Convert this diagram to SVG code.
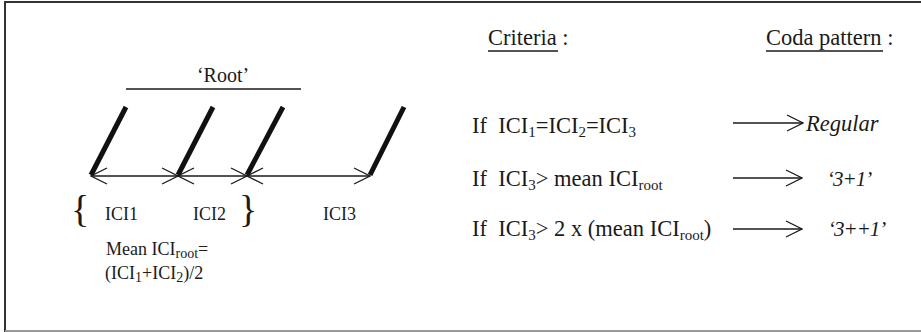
<svg xmlns="http://www.w3.org/2000/svg" width="921" height="332" viewBox="0 0 921 332">
<style>
  text { font-family: "Liberation Serif", "Times New Roman", serif; fill: #1a1a1a; }
  .l { font-size: 18px; }
  .r { font-size: 22.5px; }
  .it { font-style: italic; }
  .sub { font-size: 14px; }
  .rsub { font-size: 15px; }
  .thin { stroke: #1a1a1a; stroke-width: 1.3; fill: none; }
  .slash { stroke: #111; stroke-width: 5; fill: none; }
  .arr { stroke: #1a1a1a; stroke-width: 1.3; fill: none; marker-start: url(#chev); marker-end: url(#chev); }
  .rarr { stroke: #1a1a1a; stroke-width: 1.3; fill: none; marker-end: url(#chev); }
</style>
<defs>
  <marker id="chev" viewBox="-17 -9 18 18" refX="0" refY="0" markerWidth="18" markerHeight="18" markerUnits="userSpaceOnUse" orient="auto-start-reverse">
    <path d="M-16,-8 L0,0 L-16,8" fill="none" stroke="#1a1a1a" stroke-width="1.3"/>
  </marker>
</defs>
<rect width="921" height="332" fill="#ffffff"/>
<g id="frame">
  <path d="M5,332 V2 H921" fill="none" stroke="#333" stroke-width="2"/>
  <line x1="5" y1="331" x2="921" y2="331" stroke="#999" stroke-width="2"/>
</g>
<g id="root">
  <text x="223" y="82" text-anchor="middle" style="font-size:20px">‘Root’</text>
  <line class="thin" x1="126" y1="89" x2="301" y2="89"/>
</g>
<g id="clicks">
  <line class="slash" x1="91" y1="175" x2="126" y2="107"/>
  <line class="slash" x1="178" y1="175" x2="213" y2="107"/>
  <line class="slash" x1="247" y1="175" x2="283" y2="107"/>
  <line class="slash" x1="370" y1="175" x2="404" y2="107"/>
</g>
<g id="connectors">
  <line class="arr" x1="91" y1="176" x2="178" y2="176"/>
  <line class="arr" x1="178" y1="176" x2="247" y2="176"/>
  <line class="arr" x1="247" y1="176" x2="370" y2="176"/>
  <line class="rarr" x1="733" y1="123" x2="803" y2="123"/>
  <line class="rarr" x1="733" y1="178" x2="802" y2="178"/>
  <line class="rarr" x1="733" y1="229" x2="802" y2="229"/>
</g>
<g id="intervals">
  <text x="71" y="222" style="font-size:38px">{</text>
  <text class="l" x="105" y="220">ICI1</text>
  <text class="l" x="193" y="220">ICI2</text>
  <text x="239" y="222" style="font-size:38px">}</text>
  <text class="l" x="323" y="220">ICI3</text>
</g>
<g id="mean">
  <text class="l" x="106" y="255">Mean ICI<tspan class="sub" dy="3">root</tspan><tspan dy="-3">=</tspan></text>
  <text class="l" x="105" y="279">(ICI<tspan class="sub" dy="3">1</tspan><tspan dy="-3">+ICI</tspan><tspan class="sub" dy="3">2</tspan><tspan dy="-3">)/2</tspan></text>
</g>
<g id="headers">
  <text class="r" x="488" y="45">Criteria :</text>
  <line class="thin" x1="488" y1="51" x2="558" y2="51"/>
  <text class="r" x="766" y="45">Coda pattern :</text>
  <line class="thin" x1="766" y1="51" x2="883" y2="51"/>
</g>
<g id="crit1">
  <text class="r" x="472" y="133">If&#160; ICI<tspan class="rsub" dy="4">1</tspan><tspan dy="-4">=ICI</tspan><tspan class="rsub" dy="4">2</tspan><tspan dy="-4">=ICI</tspan><tspan class="rsub" dy="4">3</tspan></text>
  <text class="r it" x="806" y="131">Regular</text>
</g>
<g id="crit2">
  <text class="r" x="472" y="186">If&#160; ICI<tspan class="rsub" dy="4">3</tspan><tspan dy="-4">&gt; mean ICI</tspan><tspan class="rsub" dy="4">root</tspan></text>
  <text class="r it" x="827" y="186" style="font-size:21px;letter-spacing:-1px">‘3+1’</text>
</g>
<g id="crit3">
  <text class="r" x="472" y="236">If&#160; ICI<tspan class="rsub" dy="4">3</tspan><tspan dy="-4">&gt; 2 x (mean ICI</tspan><tspan class="rsub" dy="4">root</tspan><tspan dy="-4">)</tspan></text>
  <text class="r it" x="828" y="236" style="font-size:21px;letter-spacing:-1px">‘3++1’</text>
</g>
</svg>
